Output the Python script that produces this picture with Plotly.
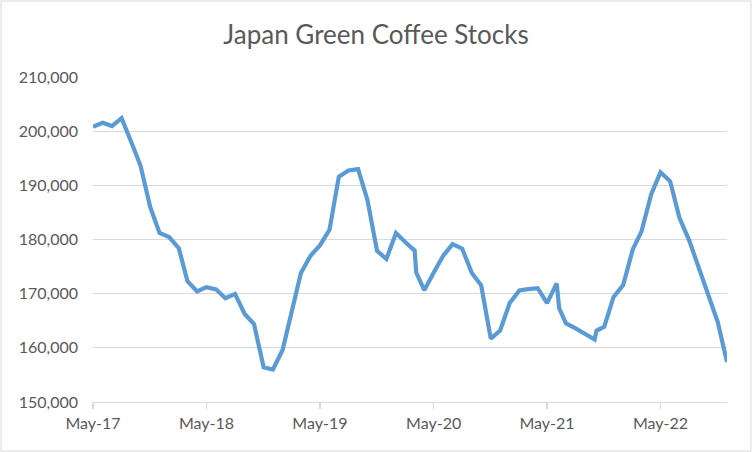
import plotly.graph_objects as go

dates = [
    "2017-05-01", "2017-06-01", "2017-07-01", "2017-08-01", "2017-09-01", "2017-10-01",
    "2017-11-01", "2017-12-01", "2018-01-01", "2018-02-01", "2018-03-01", "2018-04-01",
    "2018-05-01", "2018-06-01", "2018-07-01", "2018-08-01", "2018-09-01", "2018-10-01",
    "2018-11-01", "2018-12-01", "2019-01-01", "2019-02-01", "2019-03-01", "2019-04-01",
    "2019-05-01", "2019-06-01", "2019-07-01", "2019-08-01", "2019-09-01", "2019-10-01",
    "2019-11-01", "2019-12-01", "2020-01-01", "2020-02-01", "2020-03-01", "2020-03-06",
    "2020-04-01", "2020-05-01", "2020-06-01", "2020-07-01", "2020-08-01", "2020-09-01",
    "2020-10-01", "2020-11-01", "2020-12-01", "2021-01-01", "2021-02-01", "2021-03-01",
    "2021-04-01", "2021-05-01", "2021-06-01", "2021-06-09", "2021-07-01", "2021-08-01",
    "2021-09-01", "2021-10-01", "2021-10-07", "2021-11-01", "2021-12-01", "2022-01-01",
    "2022-02-01", "2022-03-01", "2022-04-01", "2022-05-01", "2022-06-01", "2022-07-01",
    "2022-08-01", "2022-09-01", "2022-10-01", "2022-11-01", "2022-12-01",
]

stocks = [
    200800, 201550, 200950, 202400, 198000, 193600,
    186000, 181200, 180450, 178400, 172300, 170400,
    171200, 170800, 169150, 169950, 166250, 164400,
    156400, 156000, 159600, 167500, 173800, 177000,
    178900, 181800, 191600, 192750, 193000, 187300,
    177900, 176400, 181200, 179450, 177950, 173900,
    170650, 173850, 177000, 179150, 178300, 173800,
    171550, 161700, 163200, 168300, 170600, 170850,
    171000, 168250, 171900, 167300, 164500, 163600,
    162600, 161550, 163150, 163900, 169400, 171600,
    178200, 181500, 188300, 192400, 190750, 184000,
    179900, 174900, 170100, 164800, 157400,
]

title_text = "Japan Green Coffee Stocks"
y_ticks = [150000, 160000, 170000, 180000, 190000, 200000, 210000]

W, H = 752, 452
ML, MR, MT, MB = 93, 25, 77, 50

fig = go.Figure()
fig.add_trace(go.Scatter(
    x=dates, y=stocks, mode="lines",
    line=dict(color="#5b9bd5", width=4.2, shape="linear"),
    hoverinfo="skip", showlegend=False,
))

pw = W - ML - MR
ph = H - MT - MB
fig.add_shape(
    type="rect", xref="paper", yref="paper",
    x0=-(ML - 1) / pw, x1=1 + (MR - 1) / pw,
    y0=-(MB - 1) / ph, y1=1 + (MT - 1) / ph,
    line=dict(color="#d9d9d9", width=1), fillcolor="rgba(0,0,0,0)", layer="below",
)

fig.update_layout(
    width=W, height=H,
    margin=dict(l=ML, r=MR, t=MT, b=MB),
    paper_bgcolor="white", plot_bgcolor="white",
    font=dict(family="Lato, Carlito, sans-serif", color="#595959"),
    title=dict(text=title_text, x=0.5, xref="container", xanchor="center",
               y=1 - 35 / H, yref="container", yanchor="middle",
               font=dict(size=26, color="#595959", family="Lato, sans-serif")),
    xaxis=dict(
        type="date", range=["2017-05-01", "2022-12-01"],
        tick0="2017-05-01", dtick="M12", tickformat="%b-%y",
        showgrid=False, showline=True, linecolor="#d9d9d9", linewidth=1.3,
        ticks="outside", ticklen=6, tickcolor="#d9d9d9", tickwidth=1.3,
        tickfont=dict(size=16, color="#595959"),
        zeroline=False,
    ),
    yaxis=dict(
        range=[150000, 210000], tickvals=y_ticks, tickformat=",",
        showgrid=True, gridcolor="#d9d9d9", gridwidth=1.3,
        showline=False, zeroline=False, ticks="",
        ticklabelstandoff=14,
        tickfont=dict(size=16, color="#595959"),
    ),
)

fig.write_html(
    "out.html",
    config={"displayModeBar": False, "staticPlot": True},
    post_script="document.body.style.margin='0';document.body.style.overflow='hidden';",
)
